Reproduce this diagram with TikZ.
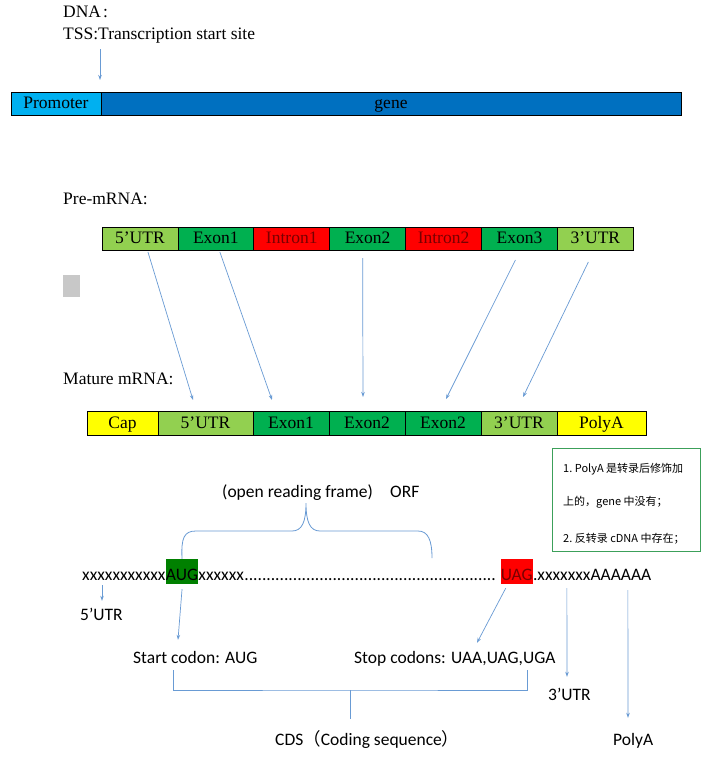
\documentclass[tikz,border=0pt]{standalone}
\usepackage{fontspec}
\setmainfont{Liberation Serif}
\newfontfamily\cali{Carlito}
\newfontfamily\cjk{Noto Sans CJK SC}
\usepackage{xcolor}
\usetikzlibrary{arrows.meta, positioning}
\definecolor{LineBlue}{RGB}{105,155,212}
\definecolor{PromBlue}{RGB}{0,176,240}
\definecolor{GeneBlue}{RGB}{0,112,192}
\definecolor{UtrGreen}{RGB}{146,208,80}
\definecolor{ExonGreen}{RGB}{0,176,80}
\definecolor{IntronRed}{RGB}{255,0,0}
\definecolor{DarkRed}{RGB}{120,0,0}
\definecolor{CapYellow}{RGB}{255,255,0}
\definecolor{AugGreen}{RGB}{0,128,0}
\definecolor{NoteGreen}{RGB}{60,160,90}
\definecolor{MarkGray}{RGB}{200,200,200}
\tikzset{
  seg/.style={rectangle, draw=black, line width=0.8pt, inner sep=0pt,
    outer sep=0pt, minimum height=23pt, text height=10pt, text depth=0pt,
    font=\fontsize{17.5}{20}\selectfont},
  prebox/.style={seg, minimum width=75.9pt},
  matbox/.style={seg, minimum width=76pt, minimum height=24pt},
  utr/.style={fill=UtrGreen},
  exon/.style={fill=ExonGreen},
  intron/.style={fill=IntronRed, text=DarkRed},
  endcap/.style={fill=CapYellow},
  heading/.style={anchor=base west, inner sep=0pt, font=\fontsize{17.5}{20}\selectfont},
  lbl/.style={anchor=base west, inner sep=0pt, text height=12pt, text depth=4pt,
    font=\cali\fontsize{17.5}{20}\selectfont},
  codon/.style={lbl, text height=21pt},
  notetxt/.style={anchor=base west, inner sep=0pt, font=\cjk\fontsize{11}{13}\selectfont},
  flow/.style={->, >={Stealth[length=5pt, width=3.5pt]}, draw=LineBlue, line width=0.7pt},
  bline/.style={draw=LineBlue, line width=0.8pt}
}

\begin{document}
\begin{tikzpicture}[x=1pt, y=-1pt]
  \useasboundingbox[fill=white] (0,0) rectangle (712,764);

  % DNA
  \node[heading] (dna) at (63,17.5) {DNA\kern2pt:};
  \node[heading] (tss) at (63,39.5) {TSS:Transcription start site};
  \node[seg, fill=PromBlue, anchor=west, minimum width=90pt] (prom) at (11,103.5) {Promoter};
  \node[seg, fill=GeneBlue, right=0pt of prom, minimum width=580pt] (gene) {gene};
  \draw[flow] ([xshift=37pt, yshift=-6pt]tss.south west) -- ([xshift=44pt, yshift=12pt]prom.north);

  % Pre-mRNA
  \node[heading] (pre) at (63,204) {Pre-mRNA:};
  \node[prebox, utr, anchor=west] (p5) at (102,238.5) {5’UTR};
  \node[prebox, exon, right=0pt of p5] (pe1) {Exon1};
  \node[prebox, intron, right=0pt of pe1] (pi1) {Intron1};
  \node[prebox, exon, right=0pt of pi1] (pe2) {Exon2};
  \node[prebox, intron, right=0pt of pe2] (pi2) {Intron2};
  \node[prebox, exon, right=0pt of pi2] (pe3) {Exon3};
  \node[prebox, utr, right=0pt of pe3] (p3) {3’UTR};

  \node[fill=MarkGray, inner sep=0pt, minimum width=17pt, minimum height=22pt] (mark) at (71.5,286) {};

  % Mature mRNA
  \node[heading] (mat) at (63,384) {Mature mRNA:};
  \node[matbox, endcap, anchor=west, minimum width=71pt] (cap) at (87,423) {Cap};
  \node[matbox, utr, right=0pt of cap, minimum width=95pt] (m5) {5’UTR};
  \node[matbox, exon, right=0pt of m5] (me1) {Exon1};
  \node[matbox, exon, right=0pt of me1] (me2) {Exon2};
  \node[matbox, exon, right=0pt of me2] (me3) {Exon2};
  \node[matbox, utr, right=0pt of me3] (m3) {3’UTR};
  \node[matbox, endcap, right=0pt of m3, minimum width=89pt] (polya) {PolyA};

  \draw[flow] ([xshift=8pt, yshift=-2pt]p5.south) -- ([xshift=-12.5pt, yshift=11pt]m5.north);
  \draw[flow] ([xshift=4pt, yshift=-2pt]pe1.south) -- ([xshift=-19pt, yshift=11pt]me1.north);
  \draw[flow] ([xshift=-5pt, yshift=-8pt]pe2.south) -- ([xshift=-4pt, yshift=14pt]me2.north);
  \draw[flow] ([xshift=-4pt, yshift=-10pt]pe3.south) -- ([xshift=3pt, yshift=12pt]me3.north);
  \draw[flow] ([xshift=-7pt, yshift=-12pt]p3.south) -- ([xshift=4pt, yshift=14pt]m3.north);

  % Note
  \node[draw=NoteGreen, line width=1pt, minimum width=148pt, minimum height=103pt] (note) at (626,499.5) {};
  \node[notetxt] (n1) at (563,472) {1.\ PolyA 是转录后修饰加};
  \node[notetxt] (n2) at (563,505) {上的，gene 中没有；};
  \node[notetxt] (n3) at (563,542) {2.\ 反转录 cDNA 中存在；};

  % Sequence
  \node[lbl] (orf1) at (222,497) {(open reading frame)};
  \node[lbl] (orf2) at (390,497) {ORF};
  \node[lbl] (s5) at (82,580) {xxxxxxxxxxx};
  \node[codon, fill=AugGreen] (aug) at (s5.base east) {AUG};
  \node[lbl] (s6) at (aug.base east) {xxxxxx};
  \node[lbl] (dots) at (s6.base east) {\hbox to 256pt{\leaders\hbox{.}\hfill}};
  \node[codon, fill=IntronRed, text=DarkRed] (uag) at (dots.base east) {UAG};
  \node[lbl] (s3) at (uag.base east) {.xxxxxxxAAAAAA};

  \draw[bline] (aug.north) .. controls (181,538) and (184,531) .. (196,531) -- (292,531)
    .. controls (302,531) and (306,522) .. (306,503)
    .. controls (306,522) and (310,531) .. (320,531) -- (418,531)
    .. controls (428,531) and (432,540) .. (432,558);

  % Labels below
  \node[lbl] (u5) at (80,620) {5’UTR};
  \node[lbl] (start) at (133,663) {Start codon: AUG};
  \node[lbl] (stop) at (354,663) {Stop codons: UAA,UAG,UGA};
  \node[lbl] (u3) at (548,700) {3’UTR};
  \node[lbl] (pa) at (613,745) {PolyA};
  \node[lbl] (cds) at (275,745) {CDS{\cjk （}Coding sequence{\cjk ）}};

  \draw[flow] ([xshift=20pt, yshift=-1pt]s5.south west) -- ([xshift=22pt, yshift=7pt]u5.north west);
  \draw[flow] ([yshift=-5pt]aug.south) -- ([xshift=45pt, yshift=11pt]start.north west);
  \draw[flow] ([xshift=-11pt, yshift=-4pt]uag.south) -- ([xshift=123pt, yshift=8pt]stop.north west);
  \draw[flow] ([xshift=34pt, yshift=-4pt]s3.south west) -- ([xshift=19pt, yshift=11pt]u3.north west);
  \draw[flow] ([xshift=95pt, yshift=-6pt]s3.south west) -- ([xshift=15pt, yshift=15pt]pa.north west);

  % CDS bracket
  \coordinate (cdsmid) at (350,690);
  \draw[bline] ([xshift=40pt, yshift=-3pt]start.south west) |- (cdsmid)
    -| ([xshift=173pt, yshift=-3pt]stop.south west);
  \draw[bline] (cdsmid) -- ([xshift=75pt, yshift=14pt]cds.north west);
\end{tikzpicture}
\end{document}
